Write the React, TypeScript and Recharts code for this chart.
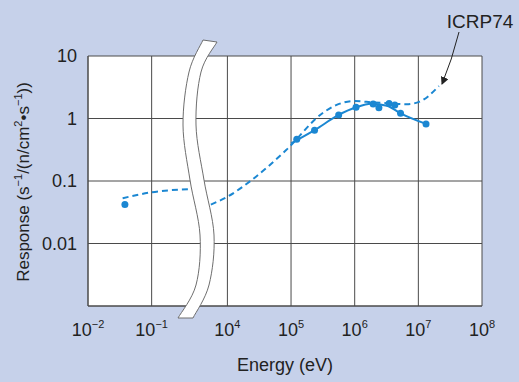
import { ComposedChart, Line, Scatter, XAxis, YAxis, CartesianGrid } from 'recharts'

// energies in eV, responses in s^-1/(n/cm2 s^-1)
const icrpLowE = [0.035, 0.099, 0.39]
const icrpLowR = [0.053, 0.066, 0.074]
const icrpHighE = [5.5e3, 1e4, 2.3e4, 8.3e4, 3.2e5, 5.1e5, 1e6, 1.95e6, 3.5e6, 6.5e6, 1.05e7, 2.1e7]
const icrpHighR = [0.042, 0.056, 0.1, 0.31, 1.24, 1.64, 1.9, 1.81, 1.75, 1.69, 1.86, 3.3]

const measE = [0.038, 1.23e5, 2.34e5, 5.6e5, 1.05e6, 1.95e6, 2.4e6, 3.47e6, 4.27e6, 5.25e6, 1.32e7]
const measR = [0.042, 0.465, 0.65, 1.14, 1.51, 1.71, 1.49, 1.73, 1.64, 1.21, 0.82]

const fitE = [1e5, 2.34e5, 5.6e5, 1.05e6, 1.8e6, 3.2e6, 5.25e6, 1.32e7]
const fitR = [0.4, 0.65, 1.14, 1.51, 1.72, 1.6, 1.21, 0.82]

const xTickE = [1e-2, 1e-1, 1e4, 1e5, 1e6, 1e7, 1e8]
const xTickExp = ['−2', '−1', '4', '5', '6', '7', '8']
const yTicks = [0.001, 0.01, 0.1, 1, 10]
const yTickLabels = ['', '0.01', '0.1', '1', '10']

// broken log axis: 10^-2..10^-1 on the left, 10^4..10^8 on the right
const GAP = 0.19
const pos = (e: number) => {
  const l = Math.log10(e)
  return l < 2 ? l + 2 : l - 4 + 2 + GAP
}

const toRows = (es: number[], rs: number[]) => es.map((e, i) => ({ x: pos(e), y: rs[i] }))

const lowData = toRows(icrpLowE, icrpLowR)
const highData = toRows(icrpHighE, icrpHighR)
const measData = toRows(measE, measR)
const fitData = toRows(fitE, fitR)
const xTicks = xTickE.map(pos)

const BLUE = '#1b87d2'
const FONT = '"Liberation Sans", Arial, sans-serif'

function XTick(props: any) {
  const { x, y, index } = props
  return (
    <text x={x} y={y + 22} textAnchor="middle" fontSize={18} fill="#222" fontFamily={FONT}>
      10<tspan fontSize={11} dy={-8}>{xTickExp[index]}</tspan>
    </text>
  )
}

function YTick(props: any) {
  const { x, y, index } = props
  return (
    <text x={x - 3} y={y + 6} textAnchor="end" fontSize={18} fill="#222" fontFamily={FONT}>
      {yTickLabels[index]}
    </text>
  )
}

// smooth path through points (catmull-rom)
function smooth(pts: number[][]) {
  let d = `M${pts[0][0]},${pts[0][1]}`
  for (let i = 0; i < pts.length - 1; i++) {
    const p0 = pts[i - 1] || pts[i]
    const p1 = pts[i]
    const p2 = pts[i + 1]
    const p3 = pts[i + 2] || p2
    const c1 = [p1[0] + (p2[0] - p0[0]) / 6, p1[1] + (p2[1] - p0[1]) / 6]
    const c2 = [p2[0] - (p3[0] - p1[0]) / 6, p2[1] - (p3[1] - p1[1]) / 6]
    d += ` C${c1[0]},${c1[1]} ${c2[0]},${c2[1]} ${p2[0]},${p2[1]}`
  }
  return d
}

// axis-break band
const leftEdge = [[203, 40], [189, 72], [183, 125], [190, 180], [200, 235], [196, 285], [178, 318]]
const rightEdge = [[217, 42], [201, 72], [196, 125], [204, 180], [214, 235], [209, 285], [193, 318]]

export default function App() {
  const rightRev = [...rightEdge].reverse()
  const band =
    smooth(leftEdge) + ` L${rightRev[0][0]},${rightRev[0][1]} ` + smooth(rightRev).slice(1) + ' Z'

  return (
    <div style={{ position: 'absolute', left: 0, top: 0, width: 519, height: 382, background: '#c6d1ea' }}>
      <ComposedChart width={519} height={382} margin={{ top: 56, right: 37, bottom: 0, left: 0 }}>
        <CartesianGrid stroke="#4a4a4a" strokeWidth={1} fill="#ffffff" fillOpacity={1} />
        <XAxis
          type="number"
          dataKey="x"
          domain={[0, 4 + 2 + GAP]}
          ticks={xTicks}
          tick={<XTick />}
          tickLine={false}
          axisLine={{ stroke: '#4a4a4a' }}
          height={76}
          allowDataOverflow
        />
        <YAxis
          type="number"
          dataKey="y"
          scale="log"
          domain={[0.001, 10]}
          ticks={yTicks}
          tick={<YTick />}
          tickLine={false}
          axisLine={{ stroke: '#4a4a4a' }}
          width={88}
          allowDataOverflow
        />
        <Line data={lowData} dataKey="y" type="monotone" stroke={BLUE} strokeWidth={2} strokeDasharray="6 4" dot={false} isAnimationActive={false} />
        <Line data={highData} dataKey="y" type="monotone" stroke={BLUE} strokeWidth={2} strokeDasharray="6 4" dot={false} isAnimationActive={false} />
        <Line data={fitData} dataKey="y" type="monotone" stroke={BLUE} strokeWidth={2} dot={false} isAnimationActive={false} />
        <Scatter data={measData} dataKey="y" fill={BLUE} shape={(p: any) => <circle cx={p.cx} cy={p.cy} r={3.5} fill={BLUE} />} isAnimationActive={false} />
      </ComposedChart>
      <svg width={519} height={382} style={{ position: 'absolute', left: 0, top: 0, pointerEvents: 'none' }}>
        <defs>
          <marker id="arr" markerWidth="8" markerHeight="8" refX="7" refY="4" orient="auto" markerUnits="userSpaceOnUse">
            <path d="M0,0 L8,4 L0,8 Z" fill="#222" />
          </marker>
        </defs>
        <path d={band} fill="#ffffff" stroke="#6e6e6e" strokeWidth={1} />
        <path d="M459,32 Q452,60 442,84" fill="none" stroke="#222" strokeWidth={1} markerEnd="url(#arr)" />
        <text x={480} y={28} textAnchor="middle" fontSize={19} fill="#222" fontFamily={FONT}>ICRP74</text>
        <text x={285} y={371} textAnchor="middle" fontSize={18} fill="#222" fontFamily={FONT}>Energy (eV)</text>
        <text transform="translate(29,182) rotate(-90)" textAnchor="middle" fontSize={17} fill="#222" fontFamily={FONT}>
          Response (s<tspan fontSize={11} dy={-7}>−1</tspan>
          <tspan dy={7}>/(n/cm</tspan>
          <tspan fontSize={11} dy={-7}>2</tspan>
          <tspan dy={7}>•s</tspan>
          <tspan fontSize={11} dy={-7}>−1</tspan>
          <tspan dy={7}>))</tspan>
        </text>
      </svg>
    </div>
  )
}
